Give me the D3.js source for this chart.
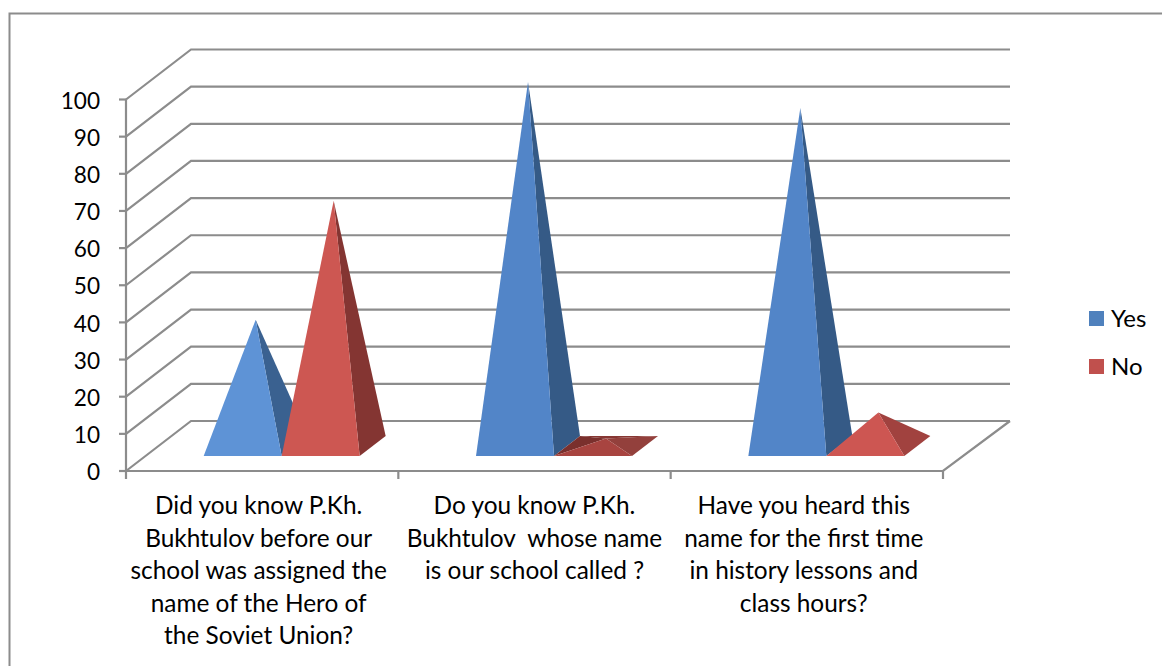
<!DOCTYPE html>
<html>
<head>
<meta charset="utf-8">
<script src="https://cdn.jsdelivr.net/npm/d3@7"></script>
<style>
  html, body { margin: 0; padding: 0; background: #fff; overflow: hidden; }
  svg { display: block; }
  text { font-family: Lato, "Open Sans", sans-serif; fill: #000; }
</style>
</head>
<body>
<svg id="chart" width="1162" height="666"></svg>
<script>
const categories = ['q1', 'q2', 'q3'];
const categoryLines = [
  ['Did you know P.Kh.', 'Bukhtulov before our', 'school was assigned the', 'name of the Hero of', 'the Soviet Union?'],
  ['Do you know P.Kh.', 'Bukhtulov  whose name', 'is our school called ?'],
  ['Have you heard this', 'name for the first time', 'in history lessons and', 'class hours?']
];
const seriesNames = ['Yes', 'No'];
const yesValues = [34, 98, 91];
const noValues = [66, 2, 9];
const yTicks = [0, 10, 20, 30, 40, 50, 60, 70, 80, 90, 100];

const seriesColors = { Yes: '#4f81bd', No: '#c0504d' };
const frontFill = { Yes: ['#5e93d6', '#5285c8', '#5285c8'], No: ['#cd5752', '#a84440', '#cd5652'] };
const sideFill = { Yes: ['#3a6190', '#355a86', '#355a86'], No: ['#843532', '#93403c', '#a1423f'] };

const grey = '#8c8c8c';
const svg = d3.select('#chart');

// frame
svg.append('path').attr('d', 'M9.5,666V13.5H1162').attr('fill', 'none').attr('stroke', grey).attr('stroke-width', 2);

const x = d3.scaleBand().domain(categories).range([126, 943]);
const y = d3.scaleLinear().domain([0, 100]).range([471, 99.5]);
const wallDx = 65, wallDy = -50;
const wallRight = 1010;
const baseDx = 26, baseDy = -20;
const baseFront = 456;      // y of the pyramids' front edge
const midShift = 19.5;      // how far the base pair is pushed right of the band centre
const pyramidW = 78;
const labelNudge = [-3.5, 0, -3];

const lineG = svg.append('g').attr('fill', 'none').attr('stroke', grey).attr('stroke-width', 2.2);

// back wall + side wall gridlines
yTicks.forEach(t => {
  lineG.append('path').attr('d', `M126,${y(t)}L${126 + wallDx},${y(t) + wallDy}H${wallRight}`);
});
// floor
lineG.append('path').attr('d', `M126,${y(0)}H943L${wallRight},${y(0) + wallDy}`);
// value axis line and ticks
lineG.append('line').attr('x1', 126).attr('x2', 126).attr('y1', y(100)).attr('y2', y(0) + 8);
yTicks.forEach(t => {
  lineG.append('line').attr('x1', 119).attr('x2', 126).attr('y1', y(t)).attr('y2', y(t));
  svg.append('text').attr('x', 100).attr('y', y(t) + 1).attr('dy', '0.36em').attr('text-anchor', 'end').attr('font-size', 22.6).text(t);
});
// category ticks
[...categories.map(c => x(c)), 943].slice(1).forEach(px => {
  lineG.append('line').attr('x1', px).attr('x2', px).attr('y1', y(0)).attr('y2', y(0) + 8);
});

// category labels
categories.forEach((c, i) => {
  const t = svg.append('text').attr('text-anchor', 'middle').attr('font-size', 24.4);
  categoryLines[i].forEach((line, j) => {
    t.append('tspan').attr('x', x(c) + x.bandwidth() / 2 + labelNudge[i]).attr('y', 514 + j * 32.5).attr('xml:space', 'preserve').text(line);
  });
});

function pyramid(group, x0, value, front, side) {
  const x1 = x0 + pyramidW;
  const ax = x0 + pyramidW / 2 + baseDx / 2;
  const midY = baseFront + baseDy / 2;
  const ay = midY - (y(0) - y(value));
  const backY = baseFront + baseDy;
  if (ay > backY) {
    // apex sits below the back edge, so the inside back faces show
    group.append('path').attr('d', `M${x0 + baseDx},${backY}H${x1 + baseDx}L${ax},${ay}Z`).attr('fill', '#873733');
    group.append('path').attr('d', `M${x0},${baseFront}L${x0 + baseDx},${backY}L${ax},${ay}Z`).attr('fill', '#7a302d');
  }
  group.append('path').attr('d', `M${x1},${baseFront}L${x1 + baseDx},${backY}L${ax},${ay}Z`).attr('fill', side);
  group.append('path').attr('d', `M${x0},${baseFront}H${x1}L${ax},${ay}Z`).attr('fill', front);
}

const marks = svg.append('g');
categories.forEach((c, i) => {
  const centre = x(c) + x.bandwidth() / 2 + midShift;
  pyramid(marks, centre - pyramidW, yesValues[i], frontFill.Yes[i], sideFill.Yes[i]);
  pyramid(marks, centre, noValues[i], frontFill.No[i], sideFill.No[i]);
});

// legend
const legendY = d3.scalePoint().domain(seriesNames).range([318.5, 366.5]);
seriesNames.forEach(name => {
  svg.append('rect').attr('x', 1089).attr('y', legendY(name) - 7.5).attr('width', 15).attr('height', 15).attr('fill', seriesColors[name]);
  svg.append('text').attr('x', 1111).attr('y', legendY(name)).attr('dy', '0.36em').attr('font-size', 24).text(name);
});
</script>
</body>
</html>
